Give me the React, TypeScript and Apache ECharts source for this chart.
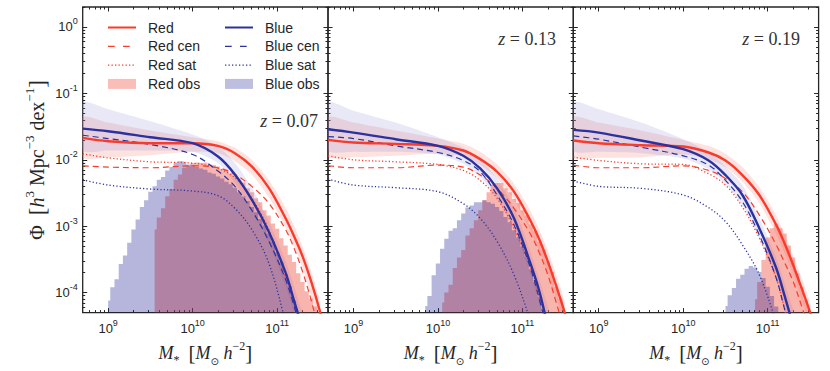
import React, { useEffect, useRef } from 'react';
import * as echarts from 'echarts';

// ---------- axes (log10 space) ----------
const X_MIN = Math.log10(5e8);
const X_MAX = Math.log10(4e11);
const Y_MIN = Math.log10(5e-5);
const Y_MAX = Math.log10(2);
const X_MAJOR = [9, 10, 11];
const Y_MAJOR = [0, -1, -2, -3, -4];
const MANTISSA = [2, 3, 4, 5, 6, 7, 8, 9];
const Z_LABELS = ['0.07', '0.13', '0.19'];

// ---------- model curves: log10(M*) grid and log10(Phi) ----------
const LOGM_CURVE = [8.7, 9.0, 9.5, 10.0, 10.3, 10.5, 10.7, 10.9, 11.1, 11.2, 11.3, 11.4, 11.5, 11.6];

const p1RedAll = [-1.67, -1.72, -1.75, -1.75, -1.79, -1.90, -2.10, -2.42, -2.88, -3.15, -3.45, -3.82, -4.25, -4.75];
const p1RedCen = [-2.09, -2.11, -2.12, -2.09, -2.12, -2.22, -2.40, -2.65, -3.05, -3.33, -3.68, -4.10, -4.60, -5.10];
const p1RedSat = [-1.91, -1.97, -2.03, -2.05, -2.13, -2.27, -2.58, -3.05, -3.75, -4.15, -4.60, -5.10, -5.60, -6.10];
const p1BlueAll = [-1.53, -1.57, -1.66, -1.75, -1.95, -2.22, -2.60, -3.08, -3.70, -4.12, -4.55, -5.05, -5.55, -6.05];
const p1BlueCen = [-1.63, -1.68, -1.77, -1.92, -2.17, -2.40, -2.76, -3.22, -3.80, -4.20, -4.65, -5.15, -5.65, -6.15];
const p1BlueSat = [-2.30, -2.38, -2.44, -2.47, -2.54, -2.73, -3.05, -3.55, -4.45, -5.00, -5.50, -6.00, -6.50, -7.00];

const p2RedAll = [-1.70, -1.74, -1.76, -1.79, -1.86, -1.99, -2.18, -2.48, -2.93, -3.20, -3.53, -3.90, -4.30, -4.80];
const p2RedCen = [-2.09, -2.12, -2.12, -2.08, -2.11, -2.23, -2.43, -2.73, -3.13, -3.40, -3.73, -4.15, -4.60, -5.10];
const p2RedSat = [-1.94, -2.00, -2.03, -2.07, -2.16, -2.31, -2.58, -3.03, -3.63, -4.05, -4.50, -5.00, -5.50, -6.00];
const p2BlueAll = [-1.54, -1.59, -1.69, -1.79, -1.94, -2.13, -2.43, -2.88, -3.58, -3.98, -4.50, -5.00, -5.50, -6.00];
const p2BlueCen = [-1.65, -1.68, -1.79, -1.89, -2.01, -2.18, -2.53, -2.98, -3.65, -4.10, -4.60, -5.10, -5.60, -6.10];
const p2BlueSat = [-2.29, -2.38, -2.42, -2.48, -2.66, -2.88, -3.23, -3.73, -4.45, -4.90, -5.40, -5.90, -6.40, -6.90];

const p3RedAll = [-1.71, -1.75, -1.78, -1.80, -1.89, -2.01, -2.23, -2.53, -2.98, -3.26, -3.58, -3.93, -4.29, -4.70];
const p3RedCen = [-2.08, -2.12, -2.12, -2.09, -2.16, -2.28, -2.48, -2.83, -3.28, -3.55, -3.83, -4.20, -4.60, -5.05];
const p3RedSat = [-1.96, -2.01, -2.06, -2.07, -2.21, -2.38, -2.71, -3.18, -3.78, -4.25, -4.70, -5.20, -5.70, -6.20];
const p3BlueAll = [-1.55, -1.59, -1.71, -1.84, -2.01, -2.23, -2.53, -3.03, -3.63, -4.05, -4.50, -5.00, -5.50, -6.00];
const p3BlueCen = [-1.64, -1.69, -1.81, -1.94, -2.08, -2.31, -2.63, -3.13, -3.78, -4.25, -4.70, -5.20, -5.70, -6.20];
const p3BlueSat = [-2.32, -2.40, -2.43, -2.53, -2.72, -2.93, -3.28, -3.73, -4.45, -4.90, -5.40, -5.90, -6.40, -6.90];

// ---------- uncertainty bands ----------
const LOGM_BAND = [8.7, 9.0, 9.5, 10.0, 10.3, 10.5, 10.7, 10.9, 11.1, 11.3, 11.5];
const p1RedBandHi = [-1.36, -1.44, -1.56, -1.66, -1.72, -1.82, -2.00, -2.30, -2.72, -3.30, -4.10];
const p1RedBandLo = [-1.96, -1.96, -1.93, -1.88, -1.90, -2.02, -2.22, -2.56, -3.02, -3.62, -4.45];
const p1BlueBandHi = [-1.14, -1.24, -1.42, -1.62, -1.80, -2.05, -2.42, -2.92, -3.52, -4.30, -5.00];
const p1BlueBandLo = [-1.86, -1.86, -1.86, -1.88, -2.05, -2.35, -2.75, -3.25, -3.90, -4.70, -5.40];
const p2RedBandHi = [-1.36, -1.44, -1.56, -1.68, -1.76, -1.88, -2.07, -2.36, -2.78, -3.36, -4.15];
const p2RedBandLo = [-1.95, -1.96, -1.94, -1.91, -1.95, -2.08, -2.28, -2.60, -3.08, -3.70, -4.45];
const p2BlueBandHi = [-1.14, -1.26, -1.44, -1.66, -1.82, -2.00, -2.28, -2.72, -3.40, -4.20, -5.00];
const p2BlueBandLo = [-1.86, -1.88, -1.88, -1.92, -2.06, -2.26, -2.58, -3.05, -3.75, -4.60, -5.40];
const p3RedBandHi = [-1.36, -1.44, -1.56, -1.70, -1.79, -1.91, -2.11, -2.41, -2.84, -3.44, -4.15];
const p3RedBandLo = [-1.96, -1.97, -1.96, -1.92, -1.99, -2.11, -2.33, -2.65, -3.12, -3.72, -4.45];
const p3BlueBandHi = [-1.14, -1.24, -1.44, -1.69, -1.88, -2.10, -2.38, -2.88, -3.48, -4.25, -5.00];
const p3BlueBandLo = [-1.86, -1.88, -1.90, -1.98, -2.14, -2.36, -2.68, -3.18, -3.80, -4.65, -5.40];

// ---------- observed histograms (0.05 dex bins, log10 Phi) ----------
const BIN = 0.05;
const p1BlueHistStart = 9.0;
const p1BlueHist = [-4.12, -3.92, -3.80, -3.57, -3.44, -3.25, -3.05, -2.90, -2.71, -2.61, -2.48, -2.40, -2.30, -2.26, -2.16, -2.11, -2.04, -2.02, -2.03, -2.07, -2.08, -2.11, -2.13, -2.15, -2.19, -2.21, -2.25, -2.28, -2.33, -2.37, -2.42, -2.49, -2.55, -2.62, -2.71, -2.79, -2.89, -2.99, -3.11, -3.23, -3.39, -3.54, -3.72, -3.90, -4.12, -4.35];
const p1RedHistStart = 9.55;
const p1RedHist = [-3.05, -2.87, -2.73, -2.55, -2.44, -2.30, -2.22, -2.12, -2.09, -2.05, -2.04, -2.05, -2.04, -2.07, -2.08, -2.10, -2.14, -2.15, -2.21, -2.24, -2.30, -2.34, -2.43, -2.49, -2.58, -2.64, -2.76, -2.84, -2.96, -3.04, -3.18, -3.29, -3.43, -3.54, -3.71, -3.84, -3.98, -4.09, -4.21, -4.32];
const p2BlueHistStart = 9.85;
const p2BlueHist = [-4.20, -4.05, -3.74, -3.56, -3.34, -3.19, -3.07, -3.03, -2.91, -2.81, -2.72, -2.69, -2.64, -2.64, -2.61, -2.64, -2.66, -2.71, -2.77, -2.86, -2.94, -3.06, -3.17, -3.31, -3.46, -3.65, -3.84, -4.06, -4.30];
const p2RedHistStart = 10.05;
const p2RedHist = [-4.15, -4.00, -3.88, -3.63, -3.47, -3.36, -3.14, -3.03, -2.91, -2.76, -2.61, -2.49, -2.38, -2.35, -2.35, -2.43, -2.49, -2.59, -2.65, -2.76, -2.84, -2.97, -3.07, -3.23, -3.35, -3.53, -3.69, -3.91, -4.09, -4.30];
const p3BlueHistStart = 10.5;
const p3BlueHist = [-4.20, -4.04, -3.93, -3.79, -3.73, -3.64, -3.60, -3.62, -3.69, -3.78, -3.91, -4.05, -4.21, -4.35];
const p3RedHistStart = 10.85;
const p3RedHist = [-4.10, -3.84, -3.51, -3.17, -3.03, -2.97, -3.03, -3.11, -3.29, -3.47, -3.71, -3.91, -4.11, -4.30];

// ---------- styles ----------
const RED = '#f93b2b';
const BLUE = '#2b32a0';
const INK = '#262626';
const RED_HIST = 'rgba(240,90,76,0.45)';
const BLUE_HIST = 'rgba(14,14,140,0.3)';
const RED_BAND = 'rgba(250,110,100,0.2)';
const BLUE_BAND = 'rgba(140,140,215,0.2)';
const DASH = [6, 4];
const DOT = [1.2, 2.2];

const GRID_LEFT = [82.7, 328, 573.3];
const GRID_W = 245.3;
const GRID_TOP = 7;
const GRID_H = 308;

const PANELS = [
  { redAll: p1RedAll, redCen: p1RedCen, redSat: p1RedSat, blueAll: p1BlueAll, blueCen: p1BlueCen, blueSat: p1BlueSat,
    rbh: p1RedBandHi, rbl: p1RedBandLo, bbh: p1BlueBandHi, bbl: p1BlueBandLo,
    bhs: p1BlueHistStart, bh: p1BlueHist, rhs: p1RedHistStart, rh: p1RedHist },
  { redAll: p2RedAll, redCen: p2RedCen, redSat: p2RedSat, blueAll: p2BlueAll, blueCen: p2BlueCen, blueSat: p2BlueSat,
    rbh: p2RedBandHi, rbl: p2RedBandLo, bbh: p2BlueBandHi, bbl: p2BlueBandLo,
    bhs: p2BlueHistStart, bh: p2BlueHist, rhs: p2RedHistStart, rh: p2RedHist },
  { redAll: p3RedAll, redCen: p3RedCen, redSat: p3RedSat, blueAll: p3BlueAll, blueCen: p3BlueCen, blueSat: p3BlueSat,
    rbh: p3RedBandHi, rbl: p3RedBandLo, bbh: p3BlueBandHi, bbl: p3BlueBandLo,
    bhs: p3BlueHistStart, bh: p3BlueHist, rhs: p3RedHistStart, rh: p3RedHist },
];

function minorTicks(lo: number, hi: number, decades: number[]) {
  const out: number[] = [];
  decades.forEach((d) => MANTISSA.forEach((m) => {
    const v = d + Math.log10(m);
    if (v >= lo - 1e-6 && v <= hi + 1e-6) out.push(v);
  }));
  return out;
}
const X_MINOR = minorTicks(X_MIN, X_MAX, [8, 9, 10, 11]);
const Y_MINOR = minorTicks(Y_MIN, Y_MAX, [-5, -4, -3, -2, -1, 0]);

const tickRich = {
  b: { fontSize: 13, lineHeight: 20, fontFamily: 'Liberation Sans', color: INK },
  s: { fontSize: 9, lineHeight: 10, verticalAlign: 'top', fontFamily: 'Liberation Sans', color: INK },
};

const mathRich = {
  i: { fontSize: 18, fontStyle: 'italic', fontFamily: 'Liberation Serif', color: INK, lineHeight: 26 },
  r: { fontSize: 18, fontFamily: 'Liberation Serif', color: INK, lineHeight: 26 },
  br: { fontSize: 21, fontFamily: 'Liberation Serif', color: INK, lineHeight: 26 },
  sub: { fontSize: 12, fontFamily: 'Liberation Serif', color: INK, lineHeight: 10, verticalAlign: 'bottom' },
  od: { fontSize: 10, fontFamily: 'DejaVu Sans', color: INK, lineHeight: 10, verticalAlign: 'bottom' },
  p: { fontSize: 12, fontFamily: 'Liberation Serif', color: INK, lineHeight: 12, verticalAlign: 'top' },
};

function mkAxis(kind: 'x' | 'y', g: number, position: string, ticks: number[], len: number, label: boolean, extra: any = {}) {
  return {
    type: 'value',
    gridIndex: g,
    position,
    min: kind === 'x' ? X_MIN : Y_MIN,
    max: kind === 'x' ? X_MAX : Y_MAX,
    axisLine: { show: false, onZero: false },
    axisTick: { show: true, inside: true, length: len, customValues: ticks, lineStyle: { color: INK, width: 1 } },
    axisLabel: label
      ? {
          show: true,
          customValues: ticks,
          margin: kind === 'x' ? 6 : 5,
          formatter: (v: number) => `{b|10}{s|${Math.round(v)}}`,
          rich: tickRich,
        }
      : { show: false },
    splitLine: { show: false },
    silent: true,
    ...extra,
  };
}

function buildOption() {
  const grid: any[] = [];
  const xAxis: any[] = [];
  const yAxis: any[] = [];
  const series: any[] = [];

  PANELS.forEach((p, g) => {
    grid.push({ left: GRID_LEFT[g], top: GRID_TOP, width: GRID_W, height: GRID_H, show: true, borderColor: INK, borderWidth: 1.3, backgroundColor: 'transparent' });
    xAxis.push(mkAxis('x', g, 'bottom', X_MAJOR, 4.5, true, {
      name: '{i|M}{sub|*}{r|  }{br|[}{i|M}{od|⊙}{r| }{i|h}{p|−2}{br|]}',
      nameLocation: 'middle',
      nameGap: 24,
      nameTextStyle: { rich: mathRich },
    }));
    xAxis.push(mkAxis('x', g, 'bottom', X_MINOR, 2.5, false));
    xAxis.push(mkAxis('x', g, 'top', X_MAJOR, 4.5, false));
    xAxis.push(mkAxis('x', g, 'top', X_MINOR, 2.5, false));
    yAxis.push(mkAxis('y', g, 'left', Y_MAJOR, 4.5, g === 0));
    yAxis.push(mkAxis('y', g, 'left', Y_MINOR, 2.5, false));
    yAxis.push(mkAxis('y', g, 'right', Y_MAJOR, 4.5, false));
    yAxis.push(mkAxis('y', g, 'right', Y_MINOR, 2.5, false));

    const ax = { xAxisIndex: 4 * g, yAxisIndex: 4 * g };

    const band = (name: string, hi: number[], lo: number[], color: string) => ({
      type: 'custom',
      name,
      ...ax,
      clip: true,
      silent: true,
      z: 1,
      data: LOGM_BAND.map((x, i) => [x, hi[i], lo[i]]),
      renderItem: (params: any, api: any) => {
        if (params.dataIndex !== 0) return null;
        const pts: number[][] = [];
        for (let i = 0; i < LOGM_BAND.length; i++) pts.push(api.coord([LOGM_BAND[i], hi[i]]));
        for (let i = LOGM_BAND.length - 1; i >= 0; i--) pts.push(api.coord([LOGM_BAND[i], lo[i]]));
        return { type: 'polygon', shape: { points: pts, smooth: 0.25 }, style: { fill: color, stroke: 'none' } };
      },
    });
    series.push(band('Red band', p.rbh, p.rbl, RED_BAND));
    series.push(band('Blue band', p.bbh, p.bbl, BLUE_BAND));

    const hist = (name: string, start: number, vals: number[], color: string, z: number) => ({
      type: 'line',
      name,
      ...ax,
      step: 'middle',
      symbol: 'none',
      showSymbol: false,
      silent: true,
      z,
      clip: true,
      itemStyle: { color },
      lineStyle: { width: 0, opacity: 0 },
      areaStyle: { color, origin: 'start', opacity: 1 },
      data: vals.map((v, i) => [start + i * BIN, v]),
    });
    series.push(hist('Red obs', p.rhs, p.rh, RED_HIST, 2));
    series.push(hist('Blue obs', p.bhs, p.bh, BLUE_HIST, 2));

    const curve = (name: string, vals: number[], color: string, width: number, type: any, z: number) => ({
      type: 'line',
      name,
      ...ax,
      symbol: 'none',
      showSymbol: false,
      smooth: 0.35,
      silent: true,
      clip: true,
      z,
      itemStyle: { color },
      lineStyle: { color, width, type },
      data: LOGM_CURVE.map((x, i) => [x, vals[i]]),
    });
    series.push(curve('Red sat', p.redSat, RED, 1.3, DOT, 3));
    series.push(curve('Blue sat', p.blueSat, BLUE, 1.3, DOT, 3));
    series.push(curve('Red cen', p.redCen, RED, 1.2, DASH, 3));
    series.push(curve('Blue cen', p.blueCen, BLUE, 1.2, DASH, 3));
    series.push(curve('Red', p.redAll, RED, 2.4, 'solid', 4));
    series.push(curve('Blue', p.blueAll, BLUE, 2.4, 'solid', 4));
  });

  const legendBase = {
    orient: 'vertical',
    top: 20,
    itemWidth: 28,
    itemHeight: 10,
    itemGap: 3.8,
    padding: 0,
    selectedMode: false,
    itemStyle: { opacity: 0, borderWidth: 0 },
    textStyle: { fontSize: 14, color: INK, fontFamily: 'Liberation Sans', lineHeight: 15, padding: [0, 0, 0, 7] },
  };
  const legendDash = { type: [6.7, 8.3], width: 1.3 };
  const legendDot = { type: [1.3, 2.2], width: 1.4 };

  const zText = (i: number, x: number, y: number) => ({
    type: 'text',
    x,
    y,
    z: 10,
    style: {
      text: `{i|z}{r| = ${Z_LABELS[i]}}`,
      align: 'right',
      verticalAlign: 'middle',
      rich: {
        i: { fontSize: 18, fontStyle: 'italic', fontFamily: 'Liberation Serif', fill: '#333' },
        r: { fontSize: 18, fontFamily: 'Liberation Serif', fill: '#333' },
      },
    },
  });

  return {
    animation: false,
    backgroundColor: '#ffffff',
    textStyle: { fontFamily: 'Liberation Sans' },
    grid,
    xAxis,
    yAxis,
    series,
    legend: [
      { ...legendBase, left: 107, data: [
        'Red',
        { name: 'Red cen', lineStyle: legendDash },
        { name: 'Red sat', lineStyle: legendDot },
        { name: 'Red obs', icon: 'rect', itemStyle: { color: '#fbbdb7', opacity: 1 } },
      ] },
      { ...legendBase, left: 224, data: [
        'Blue',
        { name: 'Blue cen', lineStyle: legendDash },
        { name: 'Blue sat', lineStyle: legendDot },
        { name: 'Blue obs', icon: 'rect', itemStyle: { color: '#bdbee0', opacity: 1 } },
      ] },
    ],
    graphic: [
      zText(0, 318, 121),
      zText(1, 556, 38.5),
      zText(2, 800, 38.5),
      {
        type: 'text',
        x: 37,
        y: 160,
        rotation: Math.PI / 2,
        z: 10,
        style: {
          text: '{r|Φ}{r|  }{br|[}{i|h}{p|3}{r| Mpc}{p|−3}{r| dex}{p|−1}{br|]}',
          align: 'center',
          verticalAlign: 'middle',
          rich: {
            i: { fontSize: 20, fontStyle: 'italic', fontFamily: 'Liberation Serif', fill: INK, lineHeight: 28 },
            r: { fontSize: 20, fontFamily: 'Liberation Serif', fill: INK, lineHeight: 28 },
            br: { fontSize: 23, fontFamily: 'Liberation Serif', fill: INK, lineHeight: 28 },
            p: { fontSize: 13, fontFamily: 'Liberation Serif', fill: INK, lineHeight: 13, verticalAlign: 'top' },
          },
        },
      },
    ],
  };
}

export default function App() {
  const ref = useRef<HTMLDivElement>(null);
  useEffect(() => {
    if (!ref.current) return;
    const chart = echarts.init(ref.current, null, { renderer: 'svg' });
    chart.setOption(buildOption() as any);
    return () => chart.dispose();
  }, []);
  return (
    <div
      ref={ref}
      style={{ position: 'fixed', left: 0, top: 0, width: 830, height: 371, background: '#fff' }}
    />
  );
}
